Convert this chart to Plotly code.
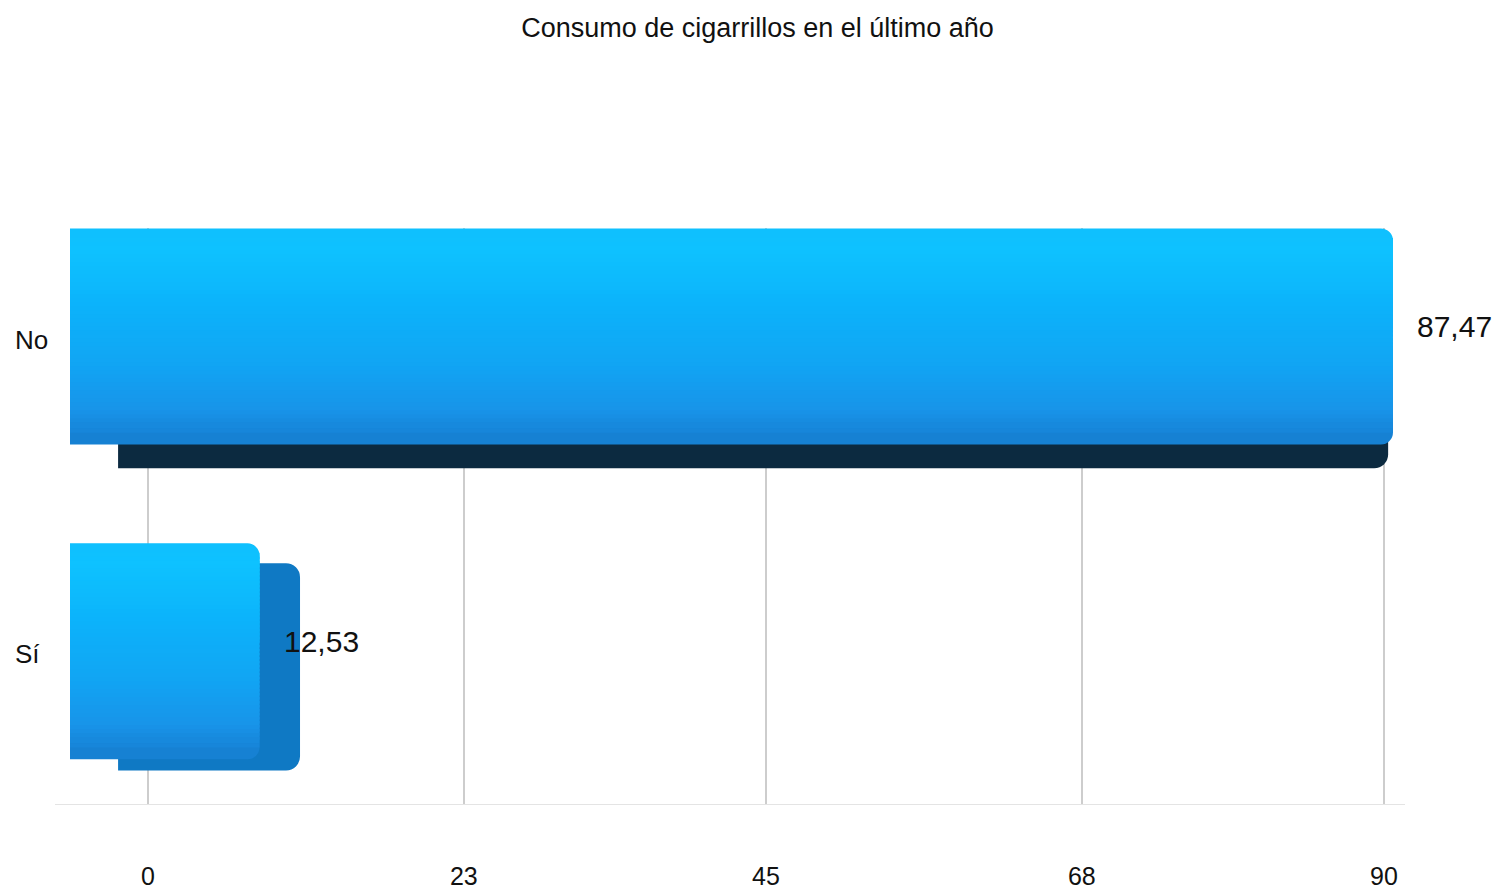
import plotly.graph_objects as go

# ---- data ----
title_text = "Consumo de cigarrillos en el último año"
categories = ["No", "Sí"]
values = [87.47, 12.53]
tick_values = [0, 23, 45, 68, 90]

# ---- styling ----
FONT = "Liberation Sans, Arial, Helvetica, sans-serif"
# vertical shading of the front face, top -> bottom: (position, rgb)
FACE_STOPS = [
    (0.00, (16, 190, 253)),
    (0.10, (14, 194, 255)),
    (0.35, (12, 180, 251)),
    (0.65, (17, 164, 243)),
    (0.85, (24, 148, 233)),
    (1.00, (22, 124, 206)),
]
DEPTH_COLOR = {"No": "#0C2A40", "Sí": "#0F79C4"}
GRID_COLOR = "#CDCDCD"
N_STRIPES = 48
CORNER_PX = 12

W, H = 1506, 890
# plot box in page pixels
PX_L, PX_R = 55, 1405
PX_T, PX_B = 230, 812

# front face of the bars: value 0 at FX0 px, FXS px per unit
FX0, FXS = 70.0, 15.125
# category rows: first row ("Sí") centred at FY0 px, FYS px between rows
FY0, FYS = 658.0, 318.0
BAR_W = 0.686

# back face of the extruded bars: front face scaled toward a vanishing point
VPX, VPY, DEPTH_K = 1272.0, 1050.0, 0.96
BX0, BXS = VPX + DEPTH_K * (FX0 - VPX), DEPTH_K * FXS
BY0, BYS = VPY + DEPTH_K * (FY0 - VPY), DEPTH_K * FYS

# floor scale carrying the value ticks
TX0, TXS = 148.0, 13.733


def x_range(origin, scale):
    return [(PX_L - origin) / scale, (PX_R - origin) / scale]


def y_range(origin, scale):
    return [(origin - PX_B) / scale, (origin - PX_T) / scale]


def shade(t):
    t = min(max(t, 0.0), 1.0)
    for (p0, c0), (p1, c1) in zip(FACE_STOPS[:-1], FACE_STOPS[1:]):
        if p0 <= t <= p1:
            f = (t - p0) / (p1 - p0)
            r, g, b = (round(a + (bb - a) * f) for a, bb in zip(c0, c1))
            return f"rgb({r},{g},{b})"
    r, g, b = FACE_STOPS[-1][1]
    return f"rgb({r},{g},{b})"


row_order = ["Sí", "No"]

fig = go.Figure()

# back faces (drawn first, behind everything)
fig.add_trace(go.Bar(
    x=values, y=categories, orientation="h", xaxis="x", yaxis="y",
    width=BAR_W,
    marker=dict(color=[DEPTH_COLOR[c] for c in categories], cornerradius=14,
                line=dict(width=0)),
    hoverinfo="skip", showlegend=False,
))

# floor ticks carrier
fig.add_trace(go.Scatter(
    x=tick_values, y=[categories[0]] * len(tick_values), xaxis="x3", yaxis="y",
    mode="markers", marker=dict(opacity=0, size=1),
    hoverinfo="skip", showlegend=False,
))

# front faces: upper and lower halves carry the rounded corners,
# the shaded bands in between give the vertical gradient
margin = CORNER_PX / FYS
fig.add_trace(go.Bar(
    x=values, y=categories, orientation="h", xaxis="x2", yaxis="y2",
    width=BAR_W / 2, offset=0,
    marker=dict(color=shade(0.04), cornerradius=CORNER_PX, line=dict(width=0)),
    hovertemplate="%{y}: %{x}<extra></extra>", showlegend=False,
))
fig.add_trace(go.Bar(
    x=values, y=categories, orientation="h", xaxis="x2", yaxis="y2",
    width=BAR_W / 2, offset=-BAR_W / 2,
    marker=dict(color=shade(0.97), cornerradius=CORNER_PX, line=dict(width=0)),
    hoverinfo="skip", showlegend=False,
))
inner = BAR_W - 2 * margin
band = inner / N_STRIPES
for i in range(N_STRIPES):
    t = (margin + (i + 0.5) * band) / BAR_W
    fig.add_trace(go.Bar(
        x=values, y=categories, orientation="h", xaxis="x2", yaxis="y2",
        width=band * 1.6 if i < N_STRIPES - 1 else band,
        offset=BAR_W / 2 - margin - (i + 1) * band,
        marker=dict(color=shade(t), line=dict(width=0)),
        hoverinfo="skip", showlegend=False,
    ))

# category names on the left
annotations = []
for c in categories:
    annotations.append(dict(
        x=13 / W, xref="paper", y=c, yref="y2", text=c, showarrow=False,
        xanchor="left", yanchor="middle", yshift=-3,
        font=dict(family=FONT, size=26, color="#111111"),
    ))

# value labels next to the bar ends
for c, v in zip(categories, values):
    annotations.append(dict(
        x=v, xref="x2", y=c, yref="y2",
        text=f"{v:.2f}".replace(".", ","), showarrow=False,
        xanchor="left", yanchor="middle", xshift=22, yshift=10,
        font=dict(family=FONT, size=30, color="#111111"),
    ))

x_dom = [PX_L / W, PX_R / W]
y_dom = [(H - PX_B) / H, (H - PX_T) / H]

fig.update_layout(
    width=W, height=H,
    margin=dict(l=0, r=0, t=0, b=0),
    paper_bgcolor="white", plot_bgcolor="white",
    font=dict(family=FONT, color="#111111"),
    title=dict(text=title_text, x=0.503, xanchor="center",
               y=1 - 28 / H, yanchor="middle",
               font=dict(family=FONT, size=27, color="#111111")),
    barmode="overlay",
    showlegend=False,
    xaxis=dict(domain=x_dom, range=x_range(BX0, BXS), visible=False,
               anchor="y"),
    yaxis=dict(domain=y_dom, type="category", categoryarray=row_order,
               range=y_range(BY0, BYS), visible=False, anchor="x"),
    xaxis2=dict(overlaying="x", range=x_range(FX0, FXS), visible=False,
                anchor="y2"),
    yaxis2=dict(overlaying="y", type="category", categoryarray=row_order,
                range=y_range(FY0, FYS), visible=False, anchor="x2"),
    xaxis3=dict(overlaying="x", anchor="y", side="bottom",
                range=x_range(TX0, TXS),
                tickmode="array", tickvals=tick_values,
                ticktext=[str(t) for t in tick_values],
                showgrid=True, gridcolor=GRID_COLOR, gridwidth=1.5,
                zeroline=False, showline=True, linecolor="#E4E4E4",
                linewidth=1, ticks="", ticklabelstandoff=50,
                tickfont=dict(family=FONT, size=25, color="#111111")),
    annotations=annotations,
)

fig.write_html("out.html")
